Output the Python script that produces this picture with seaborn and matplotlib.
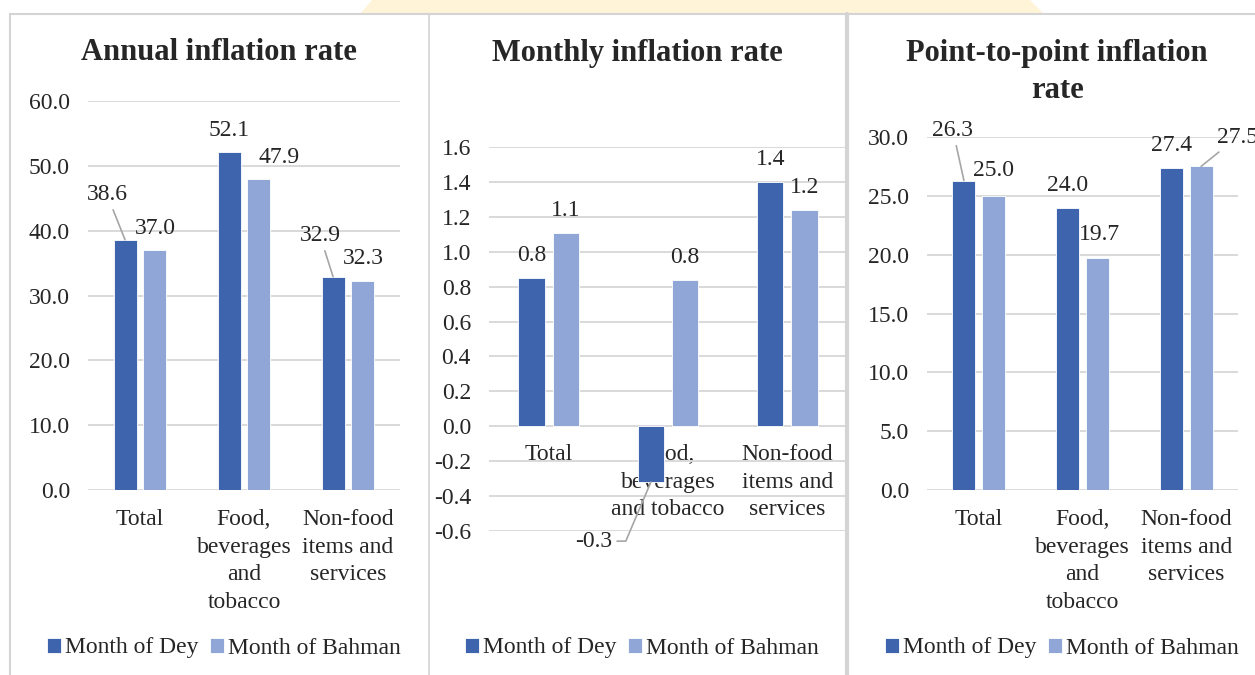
import numpy as np
import pandas as pd
import seaborn as sns
import matplotlib.pyplot as plt
from matplotlib.lines import Line2D
from matplotlib.patches import Polygon
from matplotlib.ticker import MultipleLocator, FuncFormatter

months = ['Month of Dey', 'Month of Bahman']
cats_a = ['Total', 'Food,\nbeverages\nand\ntobacco', 'Non-food\nitems and\nservices']
cats_m = ['Total', 'Food,\nbeverages\nand tobacco', 'Non-food\nitems and\nservices']

annual_dey = [38.6, 52.1, 32.9]
annual_bahman = [37.0, 47.9, 32.3]
monthly_dey = [0.85, -0.32, 1.40]
monthly_bahman = [1.11, 0.84, 1.24]
monthly_dey_lbl = ['0.8', '-0.3', '1.4']
monthly_bahman_lbl = ['1.1', '0.8', '1.2']
p2p_dey = [26.3, 24.0, 27.4]
p2p_bahman = [25.0, 19.7, 27.5]

colors = {'Month of Dey': '#3D64AD', 'Month of Bahman': '#8FA6D6'}
W, H = 1255, 675
FS = 17

sns.set_style('white')
plt.rcParams['font.family'] = ['Liberation Serif', 'DejaVu Serif']

fig = plt.figure(figsize=(W / 100, H / 100), dpi=100)


def px(x, y):
    return x / W, 1 - y / H


# yellow tab at the top and the panel frames
fig.add_artist(Polygon([px(372, 0), px(1030, 0), px(1044, 14), px(360, 14)],
                       closed=True, transform=fig.transFigure,
                       facecolor='#FFF4D8', edgecolor='none'))
frame = '#D4D4D4'
for (x0, y0, x1, y1, lw) in [(10, 14, W, 14, 1.5), (10, 14, 10, H, 1.5),
                             (429, 14, 429, H, 1.2), (847, 14, 847, H, 3)]:
    a, b = px(x0, y0)
    c, d = px(x1, y1)
    fig.add_artist(Line2D([a, c], [b, d], transform=fig.transFigure, color=frame, lw=lw))


def make_df(cats, dey, bah):
    return pd.DataFrame({'category': cats * 2,
                         'value': list(dey) + list(bah),
                         'month': [months[0]] * 3 + [months[1]] * 3})


def panel(rect, df, ylim, step, title, title_xy, legend_xy, zero_axis=False):
    l, t, r, b = rect
    ax = fig.add_axes([l / W, 1 - b / H, (r - l) / W, (b - t) / H])
    sns.barplot(data=df, x='category', y='value', hue='month', palette=colors,
                saturation=1, width=0.575, gap=0.23, ax=ax, edgecolor='white',
                linewidth=0.6, errorbar=None, legend=True)
    ax.set_xlim(-0.5, 2.5)
    ax.set_ylim(*ylim)
    ax.yaxis.set_major_locator(MultipleLocator(step))
    ax.yaxis.set_major_formatter(FuncFormatter(lambda v, p: f'{round(v, 1) + 0:.1f}'))
    ax.yaxis.grid(True, color='#D9D9D9', lw=1.4)
    ax.set_axisbelow(True)
    for s in ax.spines.values():
        s.set_visible(False)
    if zero_axis:
        ax.spines['bottom'].set_position(('data', 0))
        ax.tick_params(axis='x', length=0, pad=13, labelsize=FS)
    else:
        ax.tick_params(axis='x', length=0, pad=14, labelsize=FS)
    ax.tick_params(axis='y', length=0, pad=13, labelsize=FS)
    ax.set_xlabel('')
    ax.set_ylabel('')
    for lab in ax.get_xticklabels():
        lab.set_ha('center')
        lab.set_va('top')
        lab.set_multialignment('center')
        lab.set_linespacing(1.4)
    h, lbls = ax.get_legend_handles_labels()
    ax.legend(h, lbls, loc='center', bbox_to_anchor=px(*legend_xy),
              bbox_transform=fig.transFigure, ncol=2, frameon=False, fontsize=FS,
              handlelength=0.6, handleheight=0.6, handletextpad=0.15,
              columnspacing=0.5, borderaxespad=0)
    fig.text(*px(*title_xy), title, ha='center', va='center', fontsize=22,
             fontweight='bold', linespacing=1.4)
    return ax


def label(ax, bar, text, dx=0, dy=22, leader=False, bottom=False, conn=None):
    x = bar.get_x() + bar.get_width() / 2
    y0, y1 = bar.get_y(), bar.get_y() + bar.get_height()
    y = min(y0, y1) if bottom else max(y0, y1)
    props = None
    if leader:
        props = dict(arrowstyle='-', color='#A6A6A6', lw=1.2, shrinkA=1, shrinkB=0)
        if conn:
            props['connectionstyle'] = conn
    ax.annotate(text, (x, y), xytext=(dx, dy), textcoords='offset pixels',
                ha='center', va='center', fontsize=FS, arrowprops=props,
                annotation_clip=False)


# Annual
ax1 = panel((88, 101, 400, 490), make_df(cats_a, annual_dey, annual_bahman),
            (0, 60), 10, 'Annual inflation rate', (219, 53), (224, 648))
d, bh = ax1.containers
label(ax1, d[0], f'{annual_dey[0]:.1f}', -18, 45, leader=True)
label(ax1, bh[0], f'{annual_bahman[0]:.1f}')
label(ax1, d[1], f'{annual_dey[1]:.1f}')
label(ax1, bh[1], f'{annual_bahman[1]:.1f}', 20, 22)
label(ax1, d[2], f'{annual_dey[2]:.1f}', -13, 41, leader=True)
label(ax1, bh[2], f'{annual_bahman[2]:.1f}')

# Monthly
ax2 = panel((489, 147, 847, 531), make_df(cats_m, monthly_dey, monthly_bahman),
            (-0.6, 1.6), 0.2, 'Monthly inflation rate', (637, 53), (642, 648),
            zero_axis=True)
d, bh = ax2.containers
for i in range(3):
    if monthly_dey[i] >= 0:
        label(ax2, d[i], monthly_dey_lbl[i])
    else:
        label(ax2, d[i], monthly_dey_lbl[i], -57, -59, leader=True, bottom=True,
              conn='angle,angleA=0,angleB=67,rad=0')
    label(ax2, bh[i], monthly_bahman_lbl[i])

# Point-to-point
ax3 = panel((927, 137, 1238, 490), make_df(cats_a, p2p_dey, p2p_bahman),
            (0, 30), 5, 'Point-to-point inflation\nrate', (1057, 72), (1062, 648))
d, bh = ax3.containers
label(ax3, d[0], f'{p2p_dey[0]:.1f}', -11, 50, leader=True)
label(ax3, bh[0], f'{p2p_bahman[0]:.1f}', 0, 25)
label(ax3, d[1], f'{p2p_dey[1]:.1f}')
label(ax3, bh[1], f'{p2p_bahman[1]:.1f}', 2, 24)
label(ax3, d[2], f'{p2p_dey[2]:.1f}')
label(ax3, bh[2], f'{p2p_bahman[2]:.1f}', 36, 29, leader=True)

fig.savefig('out.png', dpi=100)
